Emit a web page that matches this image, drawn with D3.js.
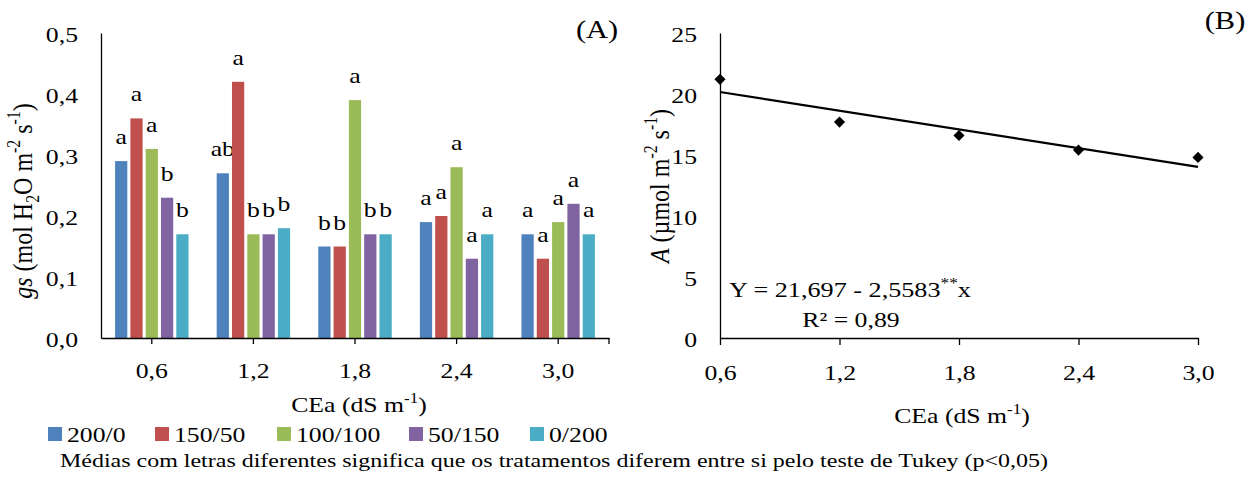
<!DOCTYPE html>
<html>
<head>
<meta charset="utf-8">
<script src="https://cdn.jsdelivr.net/npm/d3@7"></script>
<style>
  body { margin: 0; background: #fff; }
</style>
</head>
<body>
<svg id="chart"></svg>
<script>
// panel A: gs per salinity level, one array per treatment
let categories = ['0,6', '1,2', '1,8', '2,4', '3,0'];
let treatments = ['200/0', '150/50', '100/100', '50/150', '0/200'];
let gs200_0   = [0.29, 0.27, 0.15, 0.19, 0.17];
let gs150_50  = [0.36, 0.42, 0.15, 0.20, 0.13];
let gs100_100 = [0.31, 0.17, 0.39, 0.28, 0.19];
let gs50_150  = [0.23, 0.17, 0.17, 0.13, 0.22];
let gs0_200   = [0.17, 0.18, 0.17, 0.17, 0.17];
// Tukey letters
let let200_0   = ['a', 'ab', 'b', 'a', 'a'];
let let150_50  = ['a', 'a', 'b', 'a', 'a'];
let let100_100 = ['a', 'b', 'a', 'a', 'a'];
let let50_150  = ['b', 'b', 'b', 'a', 'a'];
let let0_200   = ['b', 'b', 'b', 'a', 'a'];
let gsTicks = [0, 0.1, 0.2, 0.3, 0.4, 0.5];

// panel B: A vs CEa
let cea = [0.6, 1.2, 1.8, 2.4, 3.0];
let photo = [21.2, 17.7, 16.6, 15.4, 14.8];
let fitIntercept = 21.697;
let fitSlope = -2.5583;
let aTicks = [0, 5, 10, 15, 20, 25];

let colors = ['#4F81BD', '#C0504D', '#9BBB59', '#8064A2', '#4BACC6'];
let series = [gs200_0, gs150_50, gs100_100, gs50_150, gs0_200];
let letters = [let200_0, let150_50, let100_100, let50_150, let0_200];

const SX = 1.17; // the source figure is stretched horizontally
const FONT = "'Liberation Serif', 'Times New Roman', serif";
let comma = d3.formatLocale({decimal: ',', thousands: '.', grouping: [3], currency: ['', '']});

let svg = d3.select('#chart')
  .attr('width', 1248).attr('height', 477)
  .attr('font-family', FONT);
svg.append('rect').attr('width', 1248).attr('height', 477).attr('fill', '#fff');

// text with horizontal stretch
function addText(g, x, y, str, size, anchor) {
  return g.append('text')
    .attr('transform', `translate(${x},${y}) scale(${SX},1)`)
    .attr('text-anchor', anchor || 'start')
    .attr('font-size', size)
    .text(str);
}

// rich text made of parts with sub/superscripts
function richText(t, parts, size) {
  let shift = 0;
  parts.forEach((p) => {
    let target = p.sup ? -0.42 * size : p.sub ? 0.25 * size : 0;
    t.append('tspan')
      .attr('dy', target - shift)
      .attr('font-size', (p.sup || p.sub) ? size * 0.66 : size)
      .attr('font-style', p.italic ? 'italic' : null)
      .text(p.t);
    shift = target;
  });
  return t;
}

function styleAxis(g) {
  g.attr('font-family', FONT).attr('font-size', 22);
  g.selectAll('.tick text').each(function() {
    let t = d3.select(this);
    let x = +t.attr('x') || 0;
    let y = +t.attr('y') || 0;
    t.attr('x', 0).attr('y', 0)
      .attr('transform', `translate(${x},${y}) scale(${SX},1)`);
  });
  g.selectAll('text').attr('fill', '#000');
  g.selectAll('path, line').attr('stroke', '#000').attr('stroke-width', 1.3);
}

// ---------- panel A ----------
let x0 = d3.scaleBand().domain(categories).range([101, 609]);
let x1 = d3.scaleBand().domain(d3.range(treatments.length))
  .range([0, x0.bandwidth()]).paddingInner(0.2).paddingOuter(0.92);
let yA = d3.scaleLinear().domain([0, 0.5]).range([338, 33]);

let gA = svg.append('g');

series.forEach((vals, s) => {
  let bars = gA.append('g');
  bars.selectAll('rect')
    .data(vals)
    .enter().append('rect')
    .attr('x', (d, i) => x0(categories[i]) + x1(s))
    .attr('y', (d) => yA(d))
    .attr('width', x1.bandwidth())
    .attr('height', (d) => yA(0) - yA(d))
    .attr('fill', colors[s]);
  vals.forEach((d, i) => {
    addText(bars, x0(categories[i]) + x1(s) + x1.bandwidth() / 2, yA(d) - 17, letters[s][i], 22, 'middle');
  });
});

let axAy = gA.append('g')
  .attr('transform', 'translate(101,0)')
  .call(d3.axisLeft(yA).tickValues(gsTicks).tickSize(0).tickPadding(23)
    .tickFormat(comma.format('.1f')));
axAy.selectAll('.tick text').attr('dy', '0.38em');
styleAxis(axAy);

let axAx = gA.append('g')
  .attr('transform', 'translate(0,338)')
  .call(d3.axisBottom(x0).tickSize(6).tickSizeOuter(0).tickPadding(18));
styleAxis(axAx);
axAx.append('line')
  .attr('x1', x0.range()[1]).attr('x2', x0.range()[1])
  .attr('y1', 0).attr('y2', 6)
  .attr('stroke', '#000').attr('stroke-width', 1.3);

richText(gA.append('text')
  .attr('transform', `translate(32,201) scale(${SX},1) rotate(-90)`)
  .attr('text-anchor', 'middle'),
  [{t: 'gs', italic: true}, {t: ' (mol H'}, {t: '2', sub: true}, {t: 'O m'},
   {t: '-2', sup: true}, {t: ' s'}, {t: '-1', sup: true}, {t: ')'}], 24);

richText(gA.append('text')
  .attr('transform', `translate(359,412) scale(${SX},1)`)
  .attr('text-anchor', 'middle'),
  [{t: 'CEa (dS m'}, {t: '-1', sup: true}, {t: ')'}], 22);

addText(gA, 597, 38, '(A)', 26, 'middle');

// legend
let legendX = [48, 155, 277, 409, 530];
let legend = svg.append('g');
treatments.forEach((name, i) => {
  legend.append('rect')
    .attr('x', legendX[i]).attr('y', 427)
    .attr('width', 14).attr('height', 14)
    .attr('fill', colors[i]);
  addText(legend, legendX[i] + 19, 442, name, 22, 'start');
});

svg.append('text')
  .attr('x', 60).attr('y', 467)
  .attr('font-size', 19)
  .attr('textLength', 988).attr('lengthAdjust', 'spacingAndGlyphs')
  .text('Médias com letras diferentes significa que os tratamentos diferem entre si pelo teste de Tukey (p<0,05)');

// ---------- panel B ----------
let xB = d3.scaleLinear().domain([0.6, 3.0]).range([720, 1198]);
let yB = d3.scaleLinear().domain([0, 25]).range([338, 33]);
let gB = svg.append('g');

let axBy = gB.append('g')
  .attr('transform', 'translate(720,0)')
  .call(d3.axisLeft(yB).tickValues(aTicks).tickSize(0).tickPadding(23));
axBy.selectAll('.tick text').attr('dy', '0.38em');
styleAxis(axBy);

let axBx = gB.append('g')
  .attr('transform', 'translate(0,338)')
  .call(d3.axisBottom(xB).tickValues(cea).tickSize(7).tickSizeOuter(0).tickPadding(19)
    .tickFormat(comma.format('.1f')));
styleAxis(axBx);

let fit = d3.line()
  .x((d) => xB(d))
  .y((d) => yB(fitIntercept + fitSlope * d));
gB.append('path')
  .datum([cea[0], cea[cea.length - 1]])
  .attr('d', fit)
  .attr('fill', 'none')
  .attr('stroke', '#000')
  .attr('stroke-width', 2.2);

gB.selectAll('.pt')
  .data(photo)
  .enter().append('path')
  .attr('class', 'pt')
  .attr('d', d3.symbol().type(d3.symbolSquare).size(62))
  .attr('transform', (d, i) => `translate(${xB(cea[i])},${yB(d)}) rotate(45)`)
  .attr('fill', '#000');

richText(gB.append('text')
  .attr('transform', `translate(669,186) scale(${SX},1) rotate(-90)`)
  .attr('text-anchor', 'middle'),
  [{t: 'A', italic: true}, {t: ' (µmol m'}, {t: '-2', sup: true}, {t: ' s'},
   {t: '-1', sup: true}, {t: ')'}], 24);

richText(gB.append('text')
  .attr('transform', `translate(962,423) scale(${SX},1)`)
  .attr('text-anchor', 'middle'),
  [{t: 'CEa (dS m'}, {t: '-1', sup: true}, {t: ')'}], 22);

richText(gB.append('text')
  .attr('transform', `translate(729,297) scale(1.19,1)`),
  [{t: 'Y = 21,697 - 2,5583'}, {t: '**', sup: true}, {t: 'x'}], 22);
addText(gB, 851, 327, 'R² = 0,89', 22, 'middle');

addText(gB, 1225, 29, '(B)', 26, 'middle');
</script>
</body>
</html>
